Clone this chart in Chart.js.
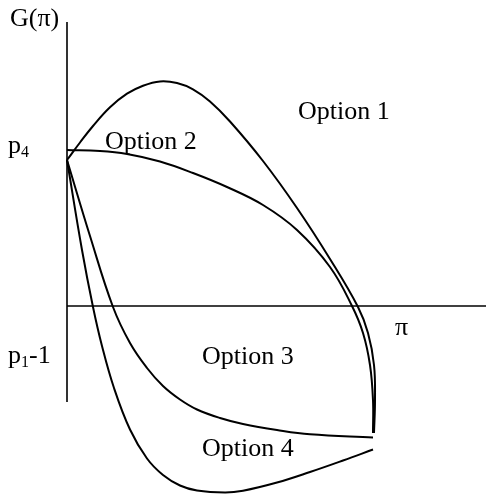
<!DOCTYPE html>
<html>
<head>
<meta charset="utf-8">
<script src="https://cdn.jsdelivr.net/npm/chart.js@4/dist/chart.umd.min.js"></script>
<style>
  html, body { margin: 0; padding: 0; background: #ffffff; }
  #wrap { width: 486px; height: 494px; }
</style>
</head>
<body>
<div id="wrap"><canvas id="c" width="486" height="494"></canvas></div>
<script>
// Schematic values (units relative to the origin of the π / G(π) axes)
const option1X = [0, 13, 26, 43, 60, 76, 93, 110, 126, 143, 163, 196, 230, 263, 291, 301, 307, 308, 307];
const option1Y = [146, 163.5, 180, 198.7, 212.3, 220.3, 224.6, 223, 216.7, 204.5, 184.5, 145, 98, 47, -1, -27, -59, -94, -127];

const option2X = [0, 33, 60, 93, 126, 160, 196, 230, 263, 285, 296, 303, 306, 306];
const option2Y = [156, 155, 152, 144.5, 133, 119, 101, 76, 39, 0, -27, -59, -94, -127];

const option3X = [0, 23, 46, 63, 80, 96, 113, 130, 153, 176, 210, 243, 306];
const option3Y = [146, 70, -1, -37, -62, -80, -93.5, -103.5, -112, -118, -124, -128.3, -131.5];

const option4X = [0, 15, 26, 35, 47, 63, 80, 96, 113, 130, 158, 176, 210, 243, 276, 306];
const option4Y = [146, 56, -1, -40, -82, -123.5, -152.5, -169, -179.5, -184.5, -186.5, -184.7, -176.5, -166, -154.5, -143.5];

// Axis extents
const vAxisX = [0, 0];
const vAxisY = [284, -96];
const hAxisX = [0, 419];
const hAxisY = [0, 0];

// Text labels ("|" separates subscript parts)
const labelTexts = ["G(π)", "p|4", "p|1|-1", "π", "Option 1", "Option 2", "Option 3", "Option 4"];

function pts(xs, ys) { return xs.map((x, i) => ({ x: x, y: ys[i] })); }

// Label placement (positions in axis units, subscript flags)
const labelLayout = [
  { x: -57, y: 280, sub: [] },
  { x: -59, y: 153, sub: [1] },
  { x: -59, y: -57, sub: [1] },
  { x: 328, y: -29, sub: [] },
  { x: 231, y: 187, sub: [] },
  { x: 38,  y: 157, sub: [] },
  { x: 135, y: -58, sub: [] },
  { x: 135, y: -150, sub: [] }
];

const labelPlugin = {
  id: 'labels',
  afterDatasetsDraw(chart) {
    const ctx = chart.ctx;
    const sx = chart.scales.x, sy = chart.scales.y;
    ctx.save();
    ctx.fillStyle = '#000';
    ctx.textBaseline = 'alphabetic';
    ctx.textAlign = 'left';
    labelTexts.forEach((t, i) => {
      const L = labelLayout[i];
      let px = sx.getPixelForValue(L.x);
      const py = sy.getPixelForValue(L.y);
      t.split('|').forEach((part, j) => {
        const isSub = L.sub.indexOf(j) >= 0;
        ctx.font = (isSub ? '16px' : '26px') + ' "Liberation Serif", "Times New Roman", serif';
        ctx.fillText(part, px, py + (isSub ? 4 : 0));
        px += ctx.measureText(part).width;
      });
    });
    ctx.restore();
  }
};

const curveStyle = { showLine: true, borderColor: '#000', borderWidth: 2, pointRadius: 0, tension: 0.4, fill: false, clip: false };
const axisStyle = { showLine: true, borderColor: '#000', borderWidth: 1.6, pointRadius: 0, tension: 0, fill: false, clip: false };

new Chart(document.getElementById('c'), {
  type: 'scatter',
  data: {
    datasets: [
      Object.assign({ label: 'axis-v', data: pts(vAxisX, vAxisY) }, axisStyle),
      Object.assign({ label: 'axis-h', data: pts(hAxisX, hAxisY) }, axisStyle),
      Object.assign({ label: 'Option 1', data: pts(option1X, option1Y) }, curveStyle),
      Object.assign({ label: 'Option 2', data: pts(option2X, option2Y) }, curveStyle),
      Object.assign({ label: 'Option 3', data: pts(option3X, option3Y) }, curveStyle),
      Object.assign({ label: 'Option 4', data: pts(option4X, option4Y) }, curveStyle)
    ]
  },
  options: {
    responsive: false,
    animation: false,
    layout: { padding: 0 },
    plugins: { legend: { display: false }, tooltip: { enabled: false } },
    scales: {
      x: { type: 'linear', min: -67, max: 419, display: false },
      y: { type: 'linear', min: -188, max: 306, display: false }
    }
  },
  plugins: [labelPlugin]
});
</script>
</body>
</html>
